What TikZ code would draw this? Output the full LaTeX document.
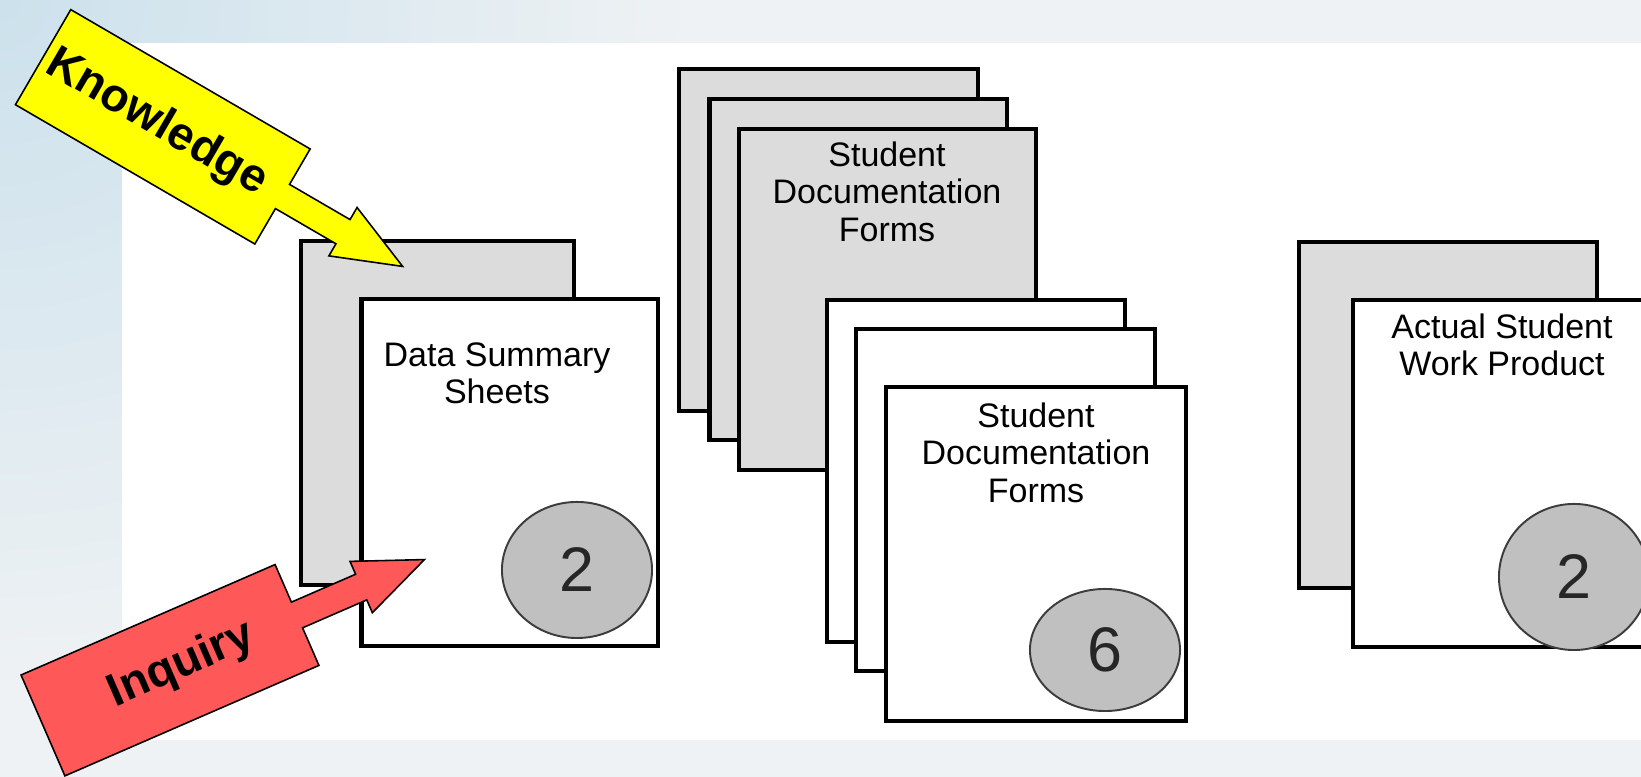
\documentclass[tikz,border=0pt]{standalone}
\usepackage{fontspec}
\setmainfont{Liberation Sans}
\usetikzlibrary{shapes.geometric}
\definecolor{pagegrey}{HTML}{DCDCDC}
\definecolor{badgegrey}{HTML}{C0C0C0}
\definecolor{badgeline}{HTML}{3C3C3C}
\definecolor{kyellow}{HTML}{FFFF00}
\definecolor{ired}{HTML}{FF5858}
\definecolor{bgblue}{HTML}{CCE1EC}
\definecolor{bgc}{HTML}{EFF2F4}
\begin{document}
\begin{tikzpicture}[x=0.01cm,y=-0.01cm,
  pg/.style={draw=black, line width=1.14pt, anchor=north west, inner sep=0pt, outer sep=0pt},
  gpage/.style={pg, fill=pagegrey},
  wpage/.style={pg, fill=white},
  lbl/.style={font=\fontsize{9.67}{10.67}\selectfont, align=center, anchor=north, inner sep=0pt, text=black},
  badge/.style={ellipse, draw=badgeline, line width=0.55pt, fill=badgegrey, inner sep=0pt,
    font=\fontsize{17.9}{20}\selectfont, text=black!85},
  arrowbox/.style={draw=black, line width=0.45pt, line join=miter},
  atext/.style={font=\fontsize{13.2}{14}\selectfont\bfseries, text=black, inner sep=0pt}
]
\useasboundingbox (0,0) rectangle (1641,777);
\clip (0,0) rectangle (1641,777);
% background
\fill[bgc] (0,0) rectangle (1641,777);
\shade[inner color=bgblue, outer color=bgc] (0,0) circle (700);
\fill[white] (122,43) rectangle (1641,740);

% Data summary group
\node[gpage, minimum width=2.73cm, minimum height=3.435cm] (dsback) at (301,241) {};
\begin{scope}[shift={(282.5,196.5)}, rotate=-30.2]
  \draw[arrowbox, fill=kyellow] (-277,-55) -- (0,-55) -- (0,-14) -- (70,-14) -- (70,-28) -- (139,0)
     -- (70,28) -- (70,14) -- (0,14) -- (0,55) -- (-277,55) -- cycle;
  \node[atext, rotate=-30.2] (know) at (-146,0) {Knowledge};
\end{scope}
\node[wpage, minimum width=2.965cm, minimum height=3.46cm] (dsfront) at (361.5,299.5) {};
\node[lbl] (dstext) at (497,342) {Data Summary\\Sheets};
\node[badge, minimum width=1.5cm, minimum height=1.36cm] (dsnum) at (577,570) {2};
\begin{scope}[shift={(297,615)}, rotate=23.5]
  \draw[arrowbox, fill=ired] (-277,-55) -- (0,-55) -- (0,-14) -- (70,-14) -- (70,-28) -- (139,0)
     -- (70,28) -- (70,14) -- (0,14) -- (0,55) -- (-277,55) -- cycle;
  \node[atext, rotate=23.5] (inq) at (-126,0) {Inquiry};
\end{scope}

% Student documentation forms (grey stack)
\node[gpage, minimum width=2.99cm, minimum height=3.41cm] (b1) at (679,69.5) {};
\node[gpage, minimum width=2.975cm, minimum height=3.40cm] (b2) at (709.5,99.5) {};
\node[gpage, minimum width=2.97cm, minimum height=3.41cm] (b3) at (739,129) {};
\node[lbl] (b3text) at (887,141) {Student\\Documentation\\Forms};

% Student documentation forms (white stack)
\node[wpage, minimum width=2.98cm, minimum height=3.415cm] (f1) at (827,300.5) {};
\node[wpage, minimum width=2.99cm, minimum height=3.41cm] (f2) at (856,329.5) {};
\node[wpage, minimum width=3.00cm, minimum height=3.34cm] (f3) at (886,387) {};
\node[lbl] (f3text) at (1036,402) {Student\\Documentation\\Forms};
\node[badge, minimum width=1.5cm, minimum height=1.22cm] (f3num) at (1105,650) {6};

% Actual student work product
\node[gpage, minimum width=2.98cm, minimum height=3.46cm] (awback) at (1299,242) {};
\node[wpage, minimum width=2.98cm, minimum height=3.47cm] (awfront) at (1353,300) {};
\node[lbl] (awtext) at (1502,313) {Actual Student\\Work Product};
\node[badge, minimum width=1.5cm, minimum height=1.46cm] (awnum) at (1574,577) {2};
\end{tikzpicture}
\end{document}
